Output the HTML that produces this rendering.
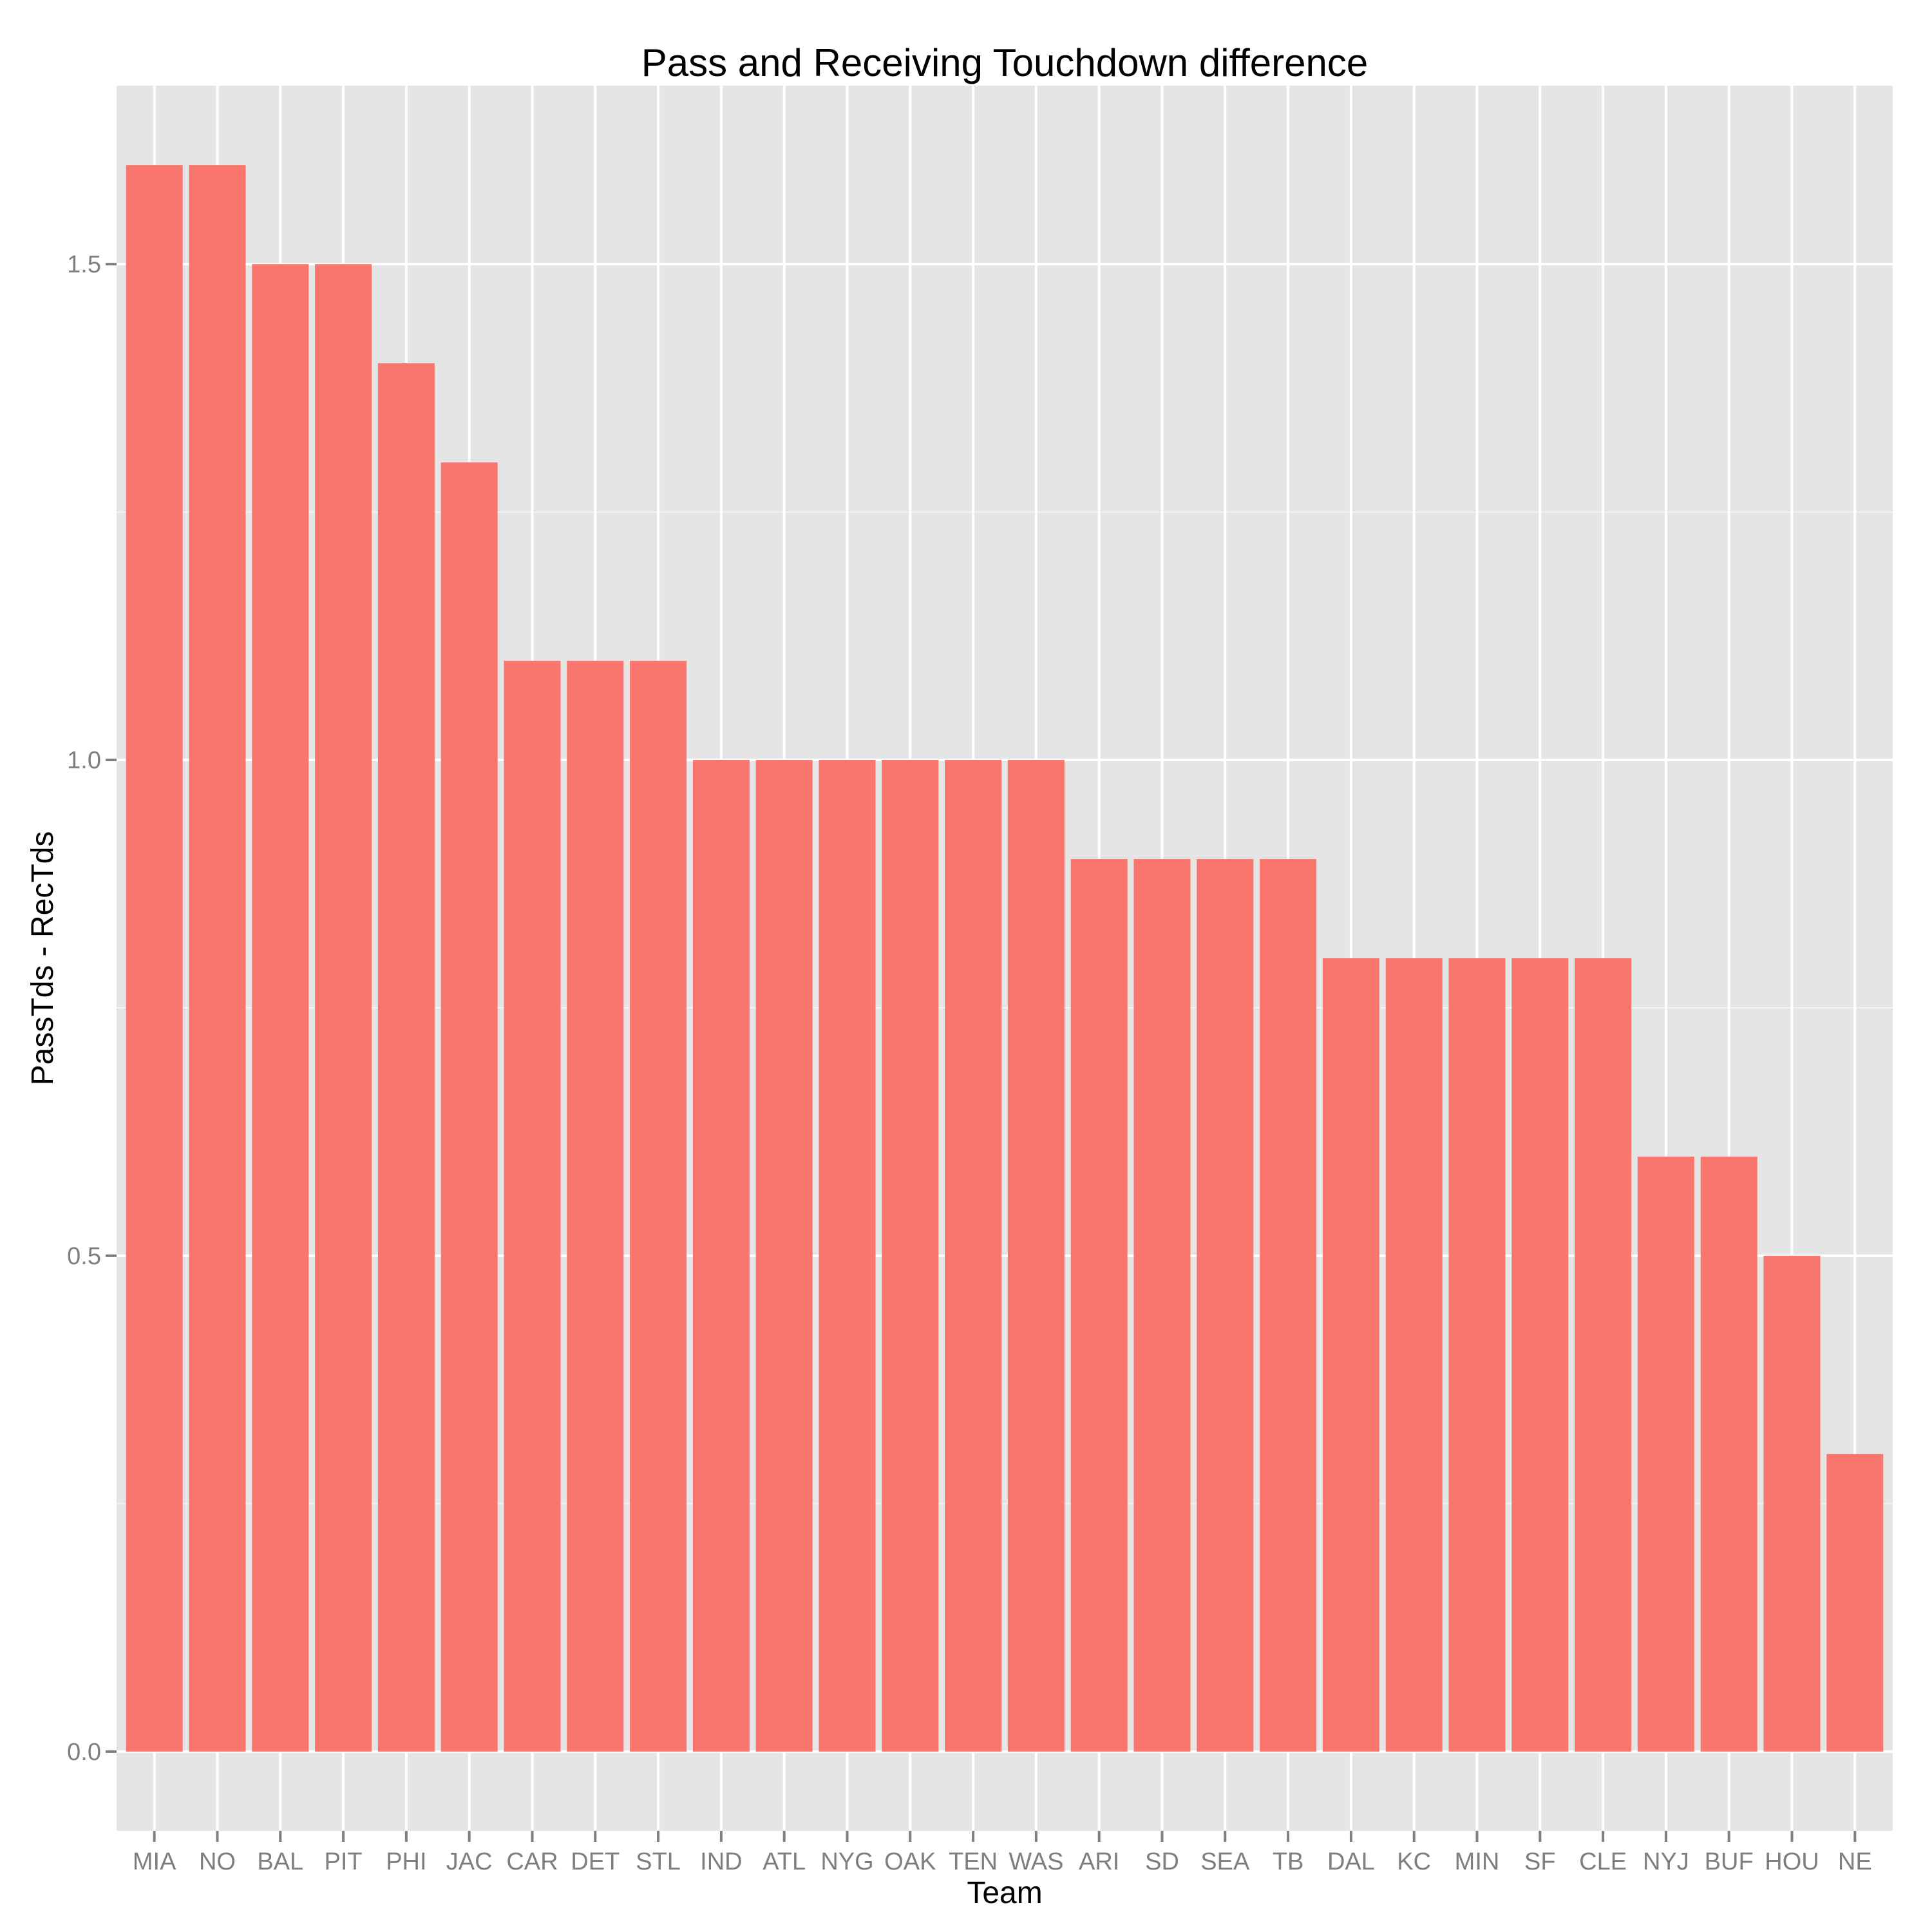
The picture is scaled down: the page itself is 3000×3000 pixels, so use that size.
<!DOCTYPE html>
<html><head><meta charset="utf-8"><style>
html,body{margin:0;padding:0;background:#fff}
svg{display:block;font-family:"Liberation Sans",Arial,sans-serif}
</style></head><body>
<svg id="chart" width="3000" height="3000" viewBox="0 0 3000 3000">
<rect x="0" y="0" width="3000" height="3000" fill="#fff"/>
<text x="1560" y="118" text-anchor="middle" font-size="60" fill="#000">Pass and Receiving Touchdown difference</text>
<text x="1560" y="2955" text-anchor="middle" font-size="48" fill="#000">Team</text>
<text x="82" y="1488" text-anchor="middle" font-size="48" fill="#000" transform="rotate(-90 82 1488)">PassTds - RecTds</text>
<g id="panel"></g>
</svg>
<script>
const teams = ["MIA","NO","BAL","PIT","PHI","JAC","CAR","DET","STL","IND","ATL","NYG","OAK","TEN","WAS","ARI","SD","SEA","TB","DAL","KC","MIN","SF","CLE","NYJ","BUF","HOU","NE"];
const values = [1.6,1.6,1.5,1.5,1.4,1.3,1.1,1.1,1.1,1.0,1.0,1.0,1.0,1.0,1.0,0.9,0.9,0.9,0.9,0.8,0.8,0.8,0.8,0.8,0.6,0.6,0.5,0.3];
const yTicks = [0,0.5,1.0,1.5];
const yTickLabels = ["0.0","0.5","1.0","1.5"];
const yMinor = [0.25,0.75,1.25];

const NS="http://www.w3.org/2000/svg";
const L=181,R=2939,T=133,B=2843;
const maxV=Math.max(...values);
const yMin=-0.05*maxV, yMax=maxV*1.05;
const y=v=>B-(v-yMin)/(yMax-yMin)*(B-T);
const n=teams.length;
const unit=(R-L)/(n-1+1.2);
const x=i=>L+(0.6+i)*unit;
const panel=document.getElementById('panel');
const svg=document.getElementById('chart');
function mk(tag,attrs,parent){const e=document.createElementNS(NS,tag);for(const k in attrs)e.setAttribute(k,attrs[k]);(parent||panel).appendChild(e);return e;}

const bg=mk('rect',{x:L,y:T,width:R-L,height:B-T,fill:'#e5e5e5'});


yMinor.forEach(v=>{
  const g=mk('line',{x1:L,x2:R,y1:y(v),y2:y(v),stroke:'#f2f2f2','stroke-width':2});
  
  
});
yTicks.forEach((v,i)=>{
  const g=mk('line',{x1:L,x2:R,y1:y(v),y2:y(v),stroke:'#fff','stroke-width':4});
  
  
  const t=mk('line',{x1:L-17,x2:L,y1:y(v),y2:y(v),stroke:'#7f7f7f','stroke-width':4},svg);
  
  
  const tx=mk('text',{x:L-24,y:y(v)+13,'text-anchor':'end','font-size':38,fill:'#7f7f7f'},svg);
  tx.textContent=yTickLabels[i];
  
  
});
teams.forEach((tm,i)=>{
  const g=mk('line',{x1:x(i),x2:x(i),y1:T,y2:B,stroke:'#fff','stroke-width':4});
  
  
});
teams.forEach((tm,i)=>{
  const w=unit*0.9;
  const b=mk('rect',{x:x(i)-w/2,y:y(values[i]),width:w,height:y(0)-y(values[i]),fill:'#f8766d'});
  
  
  const t=mk('line',{x1:x(i),x2:x(i),y1:B,y2:B+17,stroke:'#7f7f7f','stroke-width':4},svg);
  
  
  const tx=mk('text',{x:x(i),y:B+60,'text-anchor':'middle','font-size':38,fill:'#7f7f7f'},svg);
  tx.textContent=tm;
  
  
});
</script>
</body></html>
